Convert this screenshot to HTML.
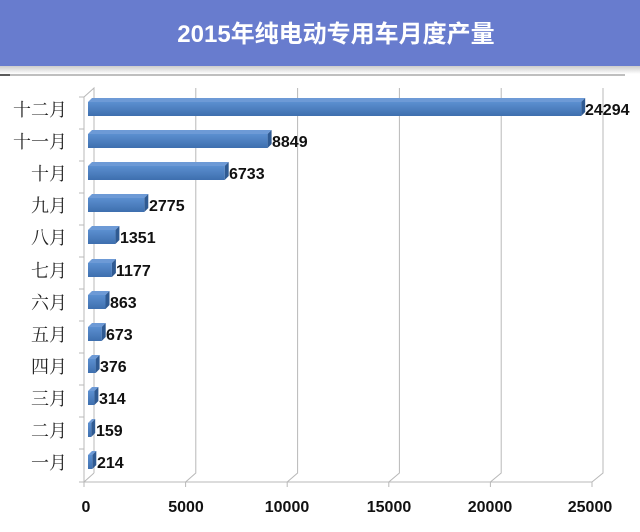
<!DOCTYPE html>
<html><head><meta charset="utf-8"><style>
body{margin:0;background:#fff;}
svg{display:block}
.v{font-size:16px;font-weight:bold;fill:#111}
.m{font-size:18px;fill:#222;text-anchor:end;font-family:"Noto Serif CJK SC",serif}
.tp{fill:#6d9ad6}.sd{fill:#2f5a92}
</style></head><body>
<svg width="640" height="532" xmlns="http://www.w3.org/2000/svg" font-family="Liberation Sans, Noto Sans CJK SC, sans-serif">
<defs>
<linearGradient id="sh" x1="0" y1="0" x2="0" y2="1"><stop offset="0" stop-color="#ccc"/><stop offset="1" stop-color="#fff"/></linearGradient>
<linearGradient id="bf" x1="0" y1="0" x2="0" y2="1"><stop offset="0" stop-color="#5b8fd0"/><stop offset="1" stop-color="#3e6fae"/></linearGradient>
</defs>
<rect x="0" y="0" width="640" height="66" fill="#687cce"/>
<rect x="0" y="66" width="640" height="8" fill="url(#sh)"/>
<text x="336" y="42" fill="#fff" font-size="24" font-weight="bold" text-anchor="middle">2015年纯电动专用车月度产量</text>
<line x1="0" y1="75" x2="625" y2="75" stroke="#aaa" stroke-width="1.5"/>
<line x1="0" y1="75" x2="10" y2="75" stroke="#333" stroke-width="1.5"/>
<g stroke="#b8b8b8" stroke-width="1" fill="none">
<polyline points="84,97 94,88 94,473"/>
<line x1="84" y1="97" x2="84" y2="482"/>
<line x1="84" y1="482" x2="592" y2="482"/>
<polyline points="84,482 94,473"/>
<polyline points="185.6,482 195.8,473 195.8,88"/>
<polyline points="287.2,482 297.6,473 297.6,88"/>
<polyline points="388.8,482 399.4,473 399.4,88"/>
<polyline points="490.4,482 501.2,473 501.2,88"/>
<polyline points="592,482 603,473 603,88"/>
<line x1="84" y1="482" x2="84" y2="487"/><line x1="185.6" y1="482" x2="185.6" y2="487"/><line x1="287.2" y1="482" x2="287.2" y2="487"/><line x1="388.8" y1="482" x2="388.8" y2="487"/><line x1="490.4" y1="482" x2="490.4" y2="487"/><line x1="592" y1="482" x2="592" y2="487"/>
<line x1="79" y1="97" x2="84" y2="97"/><line x1="79" y1="129" x2="84" y2="129"/><line x1="79" y1="161" x2="84" y2="161"/><line x1="79" y1="193" x2="84" y2="193"/><line x1="79" y1="225" x2="84" y2="225"/><line x1="79" y1="257" x2="84" y2="257"/><line x1="79" y1="289" x2="84" y2="289"/><line x1="79" y1="321" x2="84" y2="321"/><line x1="79" y1="353" x2="84" y2="353"/><line x1="79" y1="385" x2="84" y2="385"/><line x1="79" y1="417" x2="84" y2="417"/><line x1="79" y1="449" x2="84" y2="449"/><line x1="79" y1="482" x2="84" y2="482"/>
</g>

<g transform="translate(0,109)"><polygon class="tp" points="88,-7 92,-11 585.2,-11 581.2,-7"/><polygon class="sd" points="581.2,-7 585.2,-11 585.2,3 581.2,7"/><rect x="88" y="-7" width="493.2" height="14" fill="url(#bf)"/><text class="v" x="585" y="6">24294</text><text class="m" x="67" y="7">十二月</text></g>
<g transform="translate(0,141)"><polygon class="tp" points="88,-7 92,-11 271.6,-11 267.6,-7"/><polygon class="sd" points="267.6,-7 271.6,-11 271.6,3 267.6,7"/><rect x="88" y="-7" width="179.6" height="14" fill="url(#bf)"/><text class="v" x="272" y="6">8849</text><text class="m" x="67" y="7">十一月</text></g>
<g transform="translate(0,173)"><polygon class="tp" points="88,-7 92,-11 228.7,-11 224.7,-7"/><polygon class="sd" points="224.7,-7 228.7,-11 228.7,3 224.7,7"/><rect x="88" y="-7" width="136.7" height="14" fill="url(#bf)"/><text class="v" x="229" y="6">6733</text><text class="m" x="67" y="7">十月</text></g>
<g transform="translate(0,205)"><polygon class="tp" points="88,-7 92,-11 148.3,-11 144.3,-7"/><polygon class="sd" points="144.3,-7 148.3,-11 148.3,3 144.3,7"/><rect x="88" y="-7" width="56.3" height="14" fill="url(#bf)"/><text class="v" x="149" y="6">2775</text><text class="m" x="67" y="7">九月</text></g>
<g transform="translate(0,237)"><polygon class="tp" points="88,-7 92,-11 119.4,-11 115.4,-7"/><polygon class="sd" points="115.4,-7 119.4,-11 119.4,3 115.4,7"/><rect x="88" y="-7" width="27.4" height="14" fill="url(#bf)"/><text class="v" x="120" y="6">1351</text><text class="m" x="67" y="7">八月</text></g>
<g transform="translate(0,270)"><polygon class="tp" points="88,-7 92,-11 115.9,-11 111.9,-7"/><polygon class="sd" points="111.9,-7 115.9,-11 115.9,3 111.9,7"/><rect x="88" y="-7" width="23.9" height="14" fill="url(#bf)"/><text class="v" x="116" y="6">1177</text><text class="m" x="67" y="7">七月</text></g>
<g transform="translate(0,302)"><polygon class="tp" points="88,-7 92,-11 109.5,-11 105.5,-7"/><polygon class="sd" points="105.5,-7 109.5,-11 109.5,3 105.5,7"/><rect x="88" y="-7" width="17.5" height="14" fill="url(#bf)"/><text class="v" x="110" y="6">863</text><text class="m" x="67" y="7">六月</text></g>
<g transform="translate(0,334)"><polygon class="tp" points="88,-7 92,-11 105.7,-11 101.7,-7"/><polygon class="sd" points="101.7,-7 105.7,-11 105.7,3 101.7,7"/><rect x="88" y="-7" width="13.7" height="14" fill="url(#bf)"/><text class="v" x="106" y="6">673</text><text class="m" x="67" y="7">五月</text></g>
<g transform="translate(0,366)"><polygon class="tp" points="88,-7 92,-11 99.6,-11 95.6,-7"/><polygon class="sd" points="95.6,-7 99.6,-11 99.6,3 95.6,7"/><rect x="88" y="-7" width="7.6" height="14" fill="url(#bf)"/><text class="v" x="100" y="6">376</text><text class="m" x="67" y="7">四月</text></g>
<g transform="translate(0,398)"><polygon class="tp" points="88,-7 92,-11 98.4,-11 94.4,-7"/><polygon class="sd" points="94.4,-7 98.4,-11 98.4,3 94.4,7"/><rect x="88" y="-7" width="6.4" height="14" fill="url(#bf)"/><text class="v" x="99" y="6">314</text><text class="m" x="67" y="7">三月</text></g>
<g transform="translate(0,430)"><polygon class="tp" points="88,-7 92,-11 95.2,-11 91.2,-7"/><polygon class="sd" points="91.2,-7 95.2,-11 95.2,3 91.2,7"/><rect x="88" y="-7" width="3.2" height="14" fill="url(#bf)"/><text class="v" x="96" y="6">159</text><text class="m" x="67" y="7">二月</text></g>
<g transform="translate(0,462)"><polygon class="tp" points="88,-7 92,-11 96.3,-11 92.3,-7"/><polygon class="sd" points="92.3,-7 96.3,-11 96.3,3 92.3,7"/><rect x="88" y="-7" width="4.3" height="14" fill="url(#bf)"/><text class="v" x="97" y="6">214</text><text class="m" x="67" y="7">一月</text></g>

<g font-size="16" font-weight="bold" fill="#111" text-anchor="middle">
<text x="86" y="512">0</text><text x="186" y="512">5000</text><text x="287" y="512">10000</text><text x="389" y="512">15000</text><text x="490" y="512">20000</text><text x="590" y="512">25000</text>
</g>
</svg>
</body></html>
